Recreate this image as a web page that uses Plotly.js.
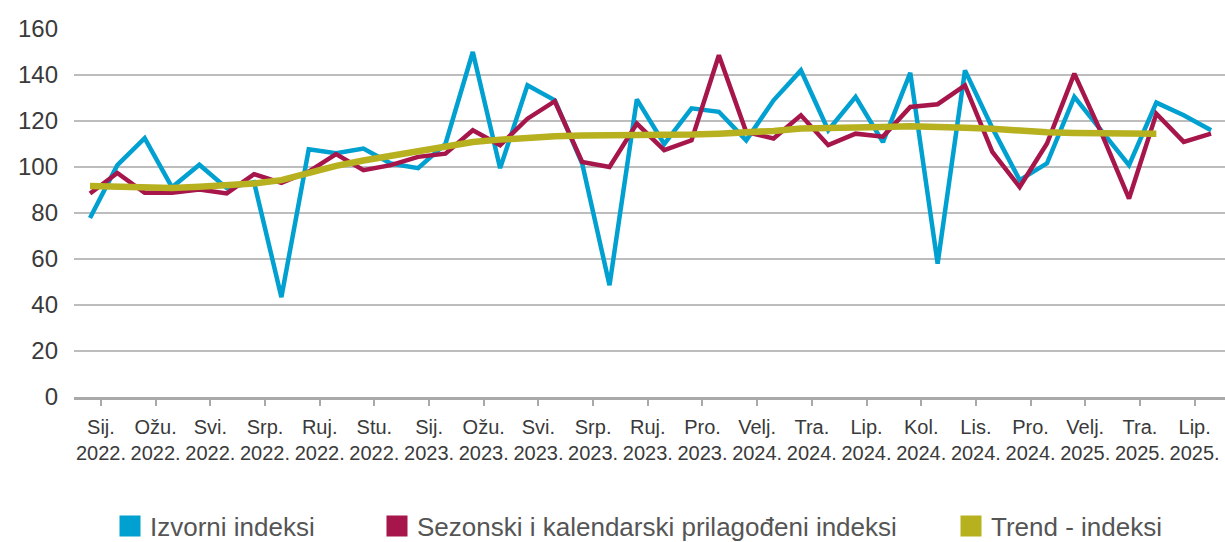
<!DOCTYPE html>
<html>
<head>
<meta charset="utf-8">
<script src="https://cdn.plot.ly/plotly-3.0.1.min.js"></script>
<style>
  html, body { margin: 0; padding: 0; background: #ffffff; }
  #chart { width: 1225px; height: 542px; }
</style>
</head>
<body>
<div id="chart"></div>
<script>
// Monthly points: Jan 2022 .. Jun 2025
const months = [
  'Sij. 2022.', 'Velj. 2022.', 'Ožu. 2022.', 'Tra. 2022.', 'Svi. 2022.', 'Lip. 2022.',
  'Srp. 2022.', 'Kol. 2022.', 'Ruj. 2022.', 'Lis. 2022.', 'Stu. 2022.', 'Pro. 2022.',
  'Sij. 2023.', 'Velj. 2023.', 'Ožu. 2023.', 'Tra. 2023.', 'Svi. 2023.', 'Lip. 2023.',
  'Srp. 2023.', 'Kol. 2023.', 'Ruj. 2023.', 'Lis. 2023.', 'Stu. 2023.', 'Pro. 2023.',
  'Sij. 2024.', 'Velj. 2024.', 'Ožu. 2024.', 'Tra. 2024.', 'Svi. 2024.', 'Lip. 2024.',
  'Srp. 2024.', 'Kol. 2024.', 'Ruj. 2024.', 'Lis. 2024.', 'Stu. 2024.', 'Pro. 2024.',
  'Sij. 2025.', 'Velj. 2025.', 'Ožu. 2025.', 'Tra. 2025.', 'Svi. 2025.', 'Lip. 2025.'
];

const izvorni = [
  77.8, 100.8, 112.5, 91.2, 101.0, 90.8, 93.4, 43.4, 107.7, 106.0, 108.0, 101.5,
  99.5, 110.0, 150.0, 99.5, 135.5, 129.0, 101.5, 48.6, 129.4, 110.0, 125.5, 124.0,
  111.6, 129.0, 142.0, 116.0, 130.5, 110.8, 141.0, 58.0, 142.0, 117.0, 94.3, 101.6,
  130.5, 116.0, 100.8, 128.0, 122.5, 116.0
];

const sezonski = [
  88.5, 97.4, 88.8, 88.8, 90.2, 88.5, 96.9, 93.1, 98.0, 105.6, 98.6, 100.8,
  104.4, 105.8, 116.0, 109.5, 121.0, 128.6, 102.2, 100.0, 118.9, 107.3, 111.6, 148.6,
  115.2, 112.4, 122.5, 109.5, 114.5, 113.2, 126.1, 127.3, 135.5, 106.6, 91.3, 110.2,
  140.6, 114.5, 86.3, 123.2, 110.9, 114.5
];

const trend = [
  91.7, 91.4, 91.1, 90.9, 91.4, 92.1, 92.8, 94.3, 97.5, 100.5, 102.8, 104.8,
  106.6, 108.7, 110.9, 111.9, 112.8, 113.4, 113.7, 113.7, 113.7, 113.8, 114.1, 114.5,
  114.8, 115.7, 116.7, 116.7, 117.1, 117.4, 117.7, 117.7, 117.1, 116.6, 115.7, 115.1,
  114.8, 114.5, 114.5, 114.5, null, null
];

const tickMonths = ['Sij.', 'Ožu.', 'Svi.', 'Srp.', 'Ruj.', 'Stu.', 'Sij.', 'Ožu.', 'Svi.', 'Srp.', 'Ruj.',
                    'Pro.', 'Velj.', 'Tra.', 'Lip.', 'Kol.', 'Lis.', 'Pro.', 'Velj.', 'Tra.', 'Lip.'];
const tickYears = ['2022.', '2022.', '2022.', '2022.', '2022.', '2022.', '2023.', '2023.', '2023.', '2023.', '2023.',
                   '2023.', '2024.', '2024.', '2024.', '2024.', '2024.', '2024.', '2025.', '2025.', '2025.'];

const seriesNames = ['Izvorni indeksi', 'Sezonski i kalendarski prilagođeni indeksi', 'Trend - indeksi'];
const colors = ['#00a0d0', '#a6164b', '#b7b01f'];

const xIdx = months.map((_, i) => i);
const tickVals = tickMonths.map((_, k) => 0.4 + 2 * k);
const tickText = tickMonths.map((m, k) => m + '<br>' + tickYears[k]);

const FONT = 'Liberation Sans, Arial, Helvetica, sans-serif';

const seriesData = [izvorni, sezonski, trend];
const widths = [4.5, 4.5, 6.5];
const legendIds = ['legend', 'legend2', 'legend3'];

const traces = [];
seriesData.forEach((ys, s) => {
  traces.push({
    type: 'scatter', mode: 'lines', x: xIdx, y: ys, text: months,
    name: seriesNames[s], showlegend: false,
    line: { color: colors[s], width: widths[s], shape: 'linear' },
    hovertemplate: '%{text}: %{y}<extra>' + seriesNames[s] + '</extra>'
  });
});
// legend-only entries with square keys
seriesNames.forEach((n, s) => {
  traces.push({
    type: 'scatter', mode: 'markers', x: [null], y: [null], name: n,
    legend: legendIds[s], showlegend: true, hoverinfo: 'skip',
    marker: { symbol: 'square', size: 16, color: colors[s], line: { color: colors[s], width: 6 } }
  });
});

const legendBase = {
  orientation: 'h', xref: 'container', yref: 'container',
  yanchor: 'middle', y: 1 - 526 / 542, xanchor: 'left',
  bgcolor: 'rgba(0,0,0,0)', borderwidth: 0,
  font: { family: FONT, size: 26, color: '#555555' }
};

const layout = {
  width: 1225, height: 542,
  margin: { l: 74, r: 0, t: 29, b: 145, pad: 0 },
  paper_bgcolor: '#ffffff', plot_bgcolor: '#ffffff',
  showlegend: true,
  legend: Object.assign({}, legendBase, { x: 110 / 1225 }),
  legend2: Object.assign({}, legendBase, { x: 377 / 1225 }),
  legend3: Object.assign({}, legendBase, { x: 951 / 1225 }),
  xaxis: {
    type: 'linear', range: [-0.585, 41.51], fixedrange: true,
    showgrid: false, zeroline: false,
    showline: true, linecolor: '#a9a9a9', linewidth: 3,
    ticks: 'outside', ticklen: 6, tickwidth: 2, tickcolor: '#a9a9a9',
    tickmode: 'array', tickvals: tickVals, ticktext: tickText,
    tickfont: { family: FONT, size: 20, color: '#3a3a3a' },
    ticklabelstandoff: 4
  },
  yaxis: {
    range: [0, 160], fixedrange: true,
    tickmode: 'linear', tick0: 0, dtick: 20,
    showgrid: true, gridcolor: '#bdbdbd', gridwidth: 2,
    zeroline: false, showline: false, ticks: '',
    tickfont: { family: FONT, size: 24, color: '#3a3a3a' },
    ticklabelstandoff: 15
  }
};

Plotly.newPlot('chart', traces, layout, { displayModeBar: false, staticPlot: true });
</script>
</body>
</html>
